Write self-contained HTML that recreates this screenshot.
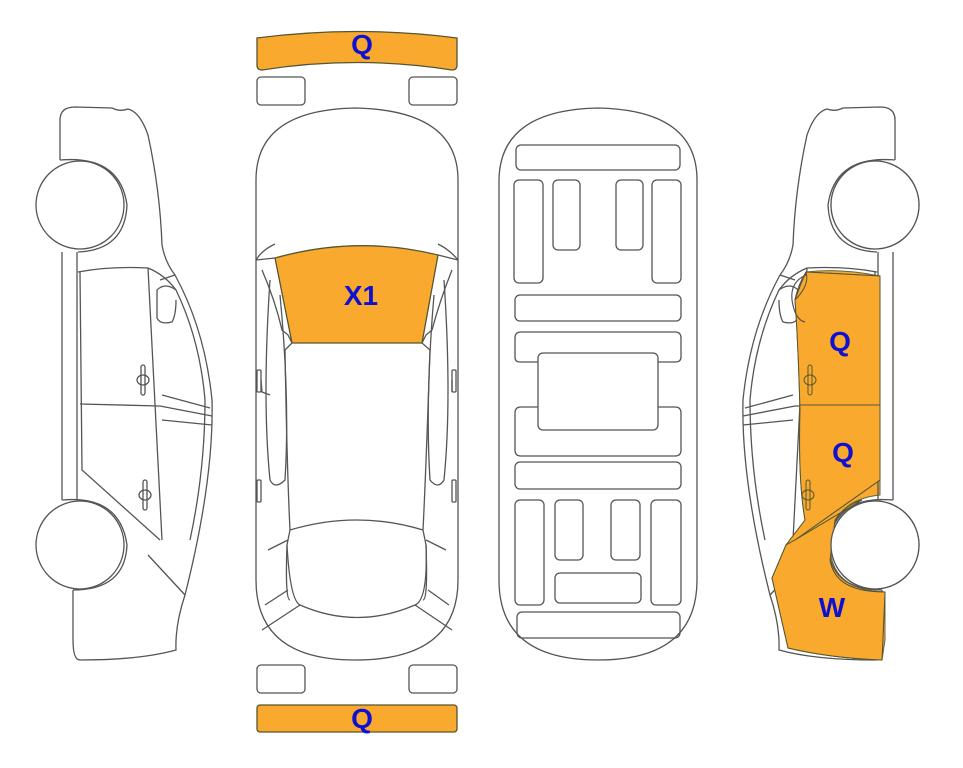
<!DOCTYPE html>
<html><head><meta charset="utf-8"><style>
html,body{margin:0;padding:0;background:#fff;width:963px;height:768px;overflow:hidden}
svg text{font-family:"Liberation Sans",Arial,sans-serif;font-weight:bold;fill:#1010d0;font-size:28px;text-anchor:middle}
</style></head><body>
<svg width="963" height="768" viewBox="0 0 963 768" xmlns="http://www.w3.org/2000/svg">
<defs>
<g id="side" fill="none" stroke="#555" stroke-width="1.3">
  <path d="M60,160 L60,120 Q60,107 75,107 L112,108 Q120,112 128,109 Q140,112 148,135 Q160,190 162,245 Q165,262 175,275 Q205,330 212,400 Q214,480 185,595 Q175,625 176,650 Q140,660 80,660 Q73,660 73,640 L73,590"/>
  <circle cx="80" cy="205" r="44" fill="#fff"/>
  <path d="M60,160 Q120,155 127,205 Q125,250 78,252"/>
  <circle cx="80" cy="545" r="44" fill="#fff"/>
  <path d="M62,500 Q120,495 127,545 Q125,590 73,590"/>
  <path d="M62,252 L62,500 M77,252 L77,500"/>
  <path d="M78,272 Q110,266 148,268 Q165,275 176,290 Q200,340 205,400 Q205,470 190,540"/>
  <path d="M148,268 L162,540 M80,272 L82,470 L160,540 M80,404 L160,406 L212,416 M162,420 L212,425 M162,395 L210,408"/>
  <path d="M160,280 L175,275 M176,290 Q165,282 157,290 L157,318 Q160,325 172,322 Q176,315 176,300"/>
  <path d="M148,555 L185,595"/>
  <rect x="141" y="365" width="4" height="30" rx="2"/><ellipse cx="143" cy="380" rx="6" ry="5"/>
  <rect x="143" y="480" width="4" height="30" rx="2"/><ellipse cx="145" cy="495" rx="6" ry="5"/>
</g>
</defs>
<use href="#side"/>
<!-- right orange -->
<path d="M806,272 Q840,268 880,276 L880,478 L880,480 L795,540 L786,545 L778,580 Q790,600 790,615 L788,648 Q830,658 882,660 L885,640 L885,592 Q830,590 830,545 Q832,500 880,495 L880,480 L880,478 L880,276 Z" fill="#f9aa2e" stroke="#664" stroke-width="1"/>
<path d="M806,272 L880,276 L880,480 L795,540 L786,545 L805,520 Q798,480 800,410 Q798,340 795,300 Q798,285 806,272 Z" fill="#f9aa2e" stroke="#664" stroke-width="1"/>
<path d="M786,545 L772,578 L788,648 Q830,658 882,660 L885,592 Q830,590 830,545 Q830,510 862,500 L795,540 Z" fill="#f9aa2e" stroke="#664" stroke-width="1"/>
<use href="#side" transform="translate(955,0) scale(-1,1)"/>
<path d="M806,272 L880,276 L880,480 L795,540 L786,545 L805,520 Q798,480 800,410 Q798,340 795,300 Q798,285 806,272 Z" fill="#f9aa2e" stroke="#553" stroke-width="1"/>
<path d="M786,545 L772,578 L788,648 Q830,658 882,660 L885,592 Q835,592 830,560 L835,520 Q845,505 862,500 L795,540 Z" fill="#f9aa2e" stroke="#553" stroke-width="1"/>
<circle cx="875" cy="545" r="44" fill="#fff" stroke="#555" stroke-width="1.3"/>
<circle cx="875" cy="205" r="44" fill="#fff" stroke="#555" stroke-width="1.3"/>
<path d="M800,405 L880,405 M795,300 Q810,285 806,272" fill="none" stroke="#553" stroke-width="1"/>
<rect x="808" y="365" width="4" height="30" rx="2" fill="none" stroke="#553"/><ellipse cx="810" cy="380" rx="6" ry="5" fill="none" stroke="#553"/>
<rect x="806" y="480" width="4" height="30" rx="2" fill="none" stroke="#553"/><ellipse cx="808" cy="495" rx="6" ry="5" fill="none" stroke="#553"/>
<path d="M795,300 Q800,285 806,272 L806,275 Q790,282 792,300 Q795,320 805,322" fill="none" stroke="#555" stroke-width="1.2"/>
<text x="840" y="351">Q</text><text x="843" y="462">Q</text><text x="832" y="617">W</text>

<!-- top view car -->
<g fill="none" stroke="#555" stroke-width="1.3">
<path d="M257,38 Q357,25 457,38 L457,65 Q457,70 452,70 Q357,55 262,70 Q257,70 257,65 Z" fill="#f9aa2e" stroke="#553"/>
<rect x="257" y="77" width="48" height="28" rx="4"/><rect x="409" y="77" width="48" height="28" rx="4"/>
<rect x="257" y="665" width="48" height="28" rx="4"/><rect x="409" y="665" width="48" height="28" rx="4"/>
<rect x="257" y="705" width="200" height="27" rx="3" fill="#f9aa2e" stroke="#553"/>
<path d="M256,180 Q256,110 355,108 Q458,110 458,180 L458,580 Q458,660 355,660 Q256,660 256,580 Z"/>
<path d="M275,258 Q357,235 438,255 L422,343 L292,343 Z" fill="#f9aa2e" stroke="#553"/>
<path d="M256,260 Q262,250 275,244 M458,260 Q450,250 438,244 M256,260 L275,258 M458,260 L438,255"/>
<path d="M262,270 Q275,300 282,330 L288,335 L292,343 L285,350 M452,270 Q440,300 432,330 L426,335 L422,343 L430,350"/>
<path d="M285,350 Q287,470 290,530 L287,545 Q285,600 290,600 M430,350 Q426,470 423,530 L426,545 Q428,600 423,600"/>
<path d="M270,280 Q262,400 270,480 Q275,490 285,480 Q290,400 280,295 M444,280 Q452,400 444,480 Q438,490 430,480 Q425,400 434,295"/>
<path d="M290,530 Q357,510 423,530 M287,545 Q290,600 300,605 Q357,630 415,605 Q428,600 426,545"/>
<path d="M268,550 L288,540 M446,550 L426,540 M265,605 L288,590 M449,605 L428,590 M262,630 L300,605 M452,630 L415,605"/>
<rect x="257" y="370" width="4" height="22" rx="1"/><rect x="452" y="370" width="4" height="22" rx="1"/>
<rect x="257" y="480" width="4" height="22" rx="1"/><rect x="452" y="480" width="4" height="22" rx="1"/>
<path d="M261,380 L262,392 L270,395 M452,380 L452,392"/>
</g>
<text x="362" y="54">Q</text><text x="361" y="305">X1</text><text x="362" y="728">Q</text>

<!-- underbody -->
<g fill="none" stroke="#555" stroke-width="1.3">
<path d="M499,180 Q500,110 598,108 Q697,110 697,180 L697,580 Q697,660 598,660 Q499,660 499,580 Z"/>
<rect x="516" y="145" width="164" height="25" rx="5"/>
<rect x="514" y="180" width="29" height="103" rx="5"/>
<rect x="553" y="180" width="27" height="70" rx="5"/>
<rect x="616" y="180" width="27" height="70" rx="5"/>
<rect x="652" y="180" width="29" height="103" rx="5"/>
<rect x="515" y="295" width="166" height="26" rx="5"/>
<path d="M538,362 L520,362 Q515,362 515,357 L515,338 Q515,332 521,332 L675,332 Q681,332 681,338 L681,357 Q681,362 675,362 L658,362 M538,407 L521,407 Q515,407 515,413 L515,450 Q515,456 521,456 L675,456 Q681,456 681,450 L681,413 Q681,407 675,407 L658,407"/>
<rect x="538" y="353" width="120" height="77" rx="5"/>
<rect x="515" y="462" width="166" height="27" rx="5"/>
<rect x="515" y="500" width="29" height="105" rx="5"/>
<rect x="555" y="500" width="28" height="60" rx="5"/>
<rect x="611" y="500" width="29" height="60" rx="5"/>
<rect x="651" y="500" width="30" height="105" rx="5"/>
<rect x="555" y="573" width="86" height="30" rx="5"/>
<rect x="517" y="612" width="163" height="26" rx="5"/>
</g>
</svg>
</body></html>
